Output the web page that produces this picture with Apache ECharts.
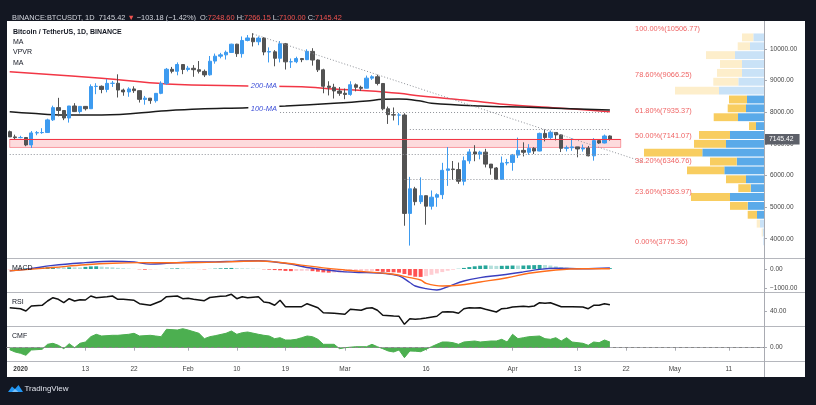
<!DOCTYPE html>
<html><head><meta charset="utf-8">
<script src="https://cdn.jsdelivr.net/npm/echarts@6/dist/echarts.min.js"></script>
<style>html,body{margin:0;padding:0;background:#131722;}#c{width:816px;height:405px;}</style>
</head><body><div id="c"></div>
<script>
// ---------- DATA ----------
// daily candles Dec 30 2019 .. Apr 19 2020 : [open, high, low, close]
const candles = [
[7385.04,7420.00,7220.00,7219.91],[7219.91,7290.00,7145.01,7195.24],[7195.24,7255.00,7175.15,7200.85],
[7200.77,7212.50,6924.74,6965.71],[6965.49,7405.00,6871.04,7344.96],[7345.00,7404.00,7272.21,7354.11],
[7354.19,7495.00,7318.00,7358.75],[7357.64,7795.34,7346.76,7758.00],[7758.90,8207.68,7723.71,8145.28],
[8145.92,8455.00,7870.00,8055.98],[8054.72,8055.96,7750.00,7817.76],[7817.74,8199.00,7672.00,8197.02],
[8197.02,8286.34,8006.00,8020.01],[8020.01,8197.00,7960.00,8184.98],[8184.97,8196.00,8055.89,8110.34],
[8110.34,8880.00,8105.25,8810.01],[8814.64,8916.48,8570.05,8821.41],[8820.01,8846.46,8600.00,8720.01],
[8720.15,9050.00,8630.00,8913.28],[8913.27,8988.88,8800.00,8915.96],[8915.09,9198.98,8466.00,8701.70],
[8701.72,8746.93,8521.28,8642.35],[8642.35,8789.10,8488.00,8736.03],[8736.04,8818.00,8611.00,8682.36],
[8681.65,8688.00,8306.07,8406.41],[8405.80,8514.67,8238.00,8445.43],[8445.34,8445.34,8266.00,8367.85],
[8364.47,8600.00,8305.00,8596.83],[8597.30,8977.73,8570.31,8909.95],[8912.52,9400.00,8862.20,9358.59],
[9357.47,9432.33,9230.00,9294.69],[9295.49,9575.00,9167.70,9508.93],[9508.31,9521.71,9203.00,9350.53],
[9351.71,9464.53,9290.00,9392.88],[9389.00,9489.60,9120.00,9344.37],[9344.69,9618.79,9225.00,9293.52],
[9292.24,9350.00,9112.81,9180.96],[9183.16,9777.77,9156.50,9613.23],[9617.82,9855.00,9535.00,9772.43],
[9772.44,9877.00,9704.28,9813.73],[9813.73,9950.00,9666.00,9895.05],[9889.65,10166.00,9883.04,10151.75],
[10151.72,10165.32,9750.00,9851.83],[9851.74,10396.61,9726.00,10268.98],[10269.52,10440.00,10240.86,10348.78],
[10348.78,10500.00,10080.00,10228.67],[10229.63,10394.60,10120.00,10344.36],[10344.36,10370.90,9801.00,9904.72],
[9904.46,10050.00,9575.00,9917.27],[9910.70,9964.16,9452.67,9706.00],[9706.00,10250.00,9576.01,10164.71],
[10164.78,10191.20,9350.00,9593.79],[9594.65,9699.00,9400.00,9596.42],[9597.21,9755.84,9550.70,9697.15],
[9697.15,9715.65,9583.10,9663.16],[9663.16,9990.00,9647.75,9924.74],[9924.15,10025.00,9474.00,9650.86],
[9651.13,9670.00,9272.00,9341.08],[9340.85,9375.00,8600.00,8820.00],[8825.94,8980.00,8531.00,8784.94],
[8788.54,8900.00,8433.00,8672.46],[8671.21,8796.00,8520.00,8599.51],[8599.76,8750.00,8411.00,8562.04],
[8563.26,8979.92,8522.30,8869.67],[8865.54,8909.00,8660.00,8787.86],[8788.10,8840.00,8670.00,8755.25],
[8760.07,9159.42,8755.00,9078.08],[9078.30,9170.00,9021.00,9122.55],[9121.60,9188.00,8850.00,8909.95],
[8908.95,8914.34,8060.00,8108.12],[8108.20,8177.79,7630.00,7923.64],[7922.42,8150.00,7740.00,7909.73],
[7910.87,7975.00,7590.00,7911.43],[7911.43,7966.17,4410.00,4800.00],[4800.01,5955.00,3782.13,5578.60],
[5576.05,5640.52,5055.13,5172.06],[5172.06,5940.00,5100.00,5361.30],[5360.33,5365.42,4442.12,5028.97],
[5028.86,5525.00,4921.45,5312.64],[5312.64,5436.17,5009.37,5393.26],[5393.26,6400.00,5252.53,6162.48],
[6162.05,6900.00,5670.00,6208.36],[6204.57,6456.98,5860.02,6186.98],[6187.04,6407.87,5734.01,5816.19],
[5816.05,6600.00,5688.00,6467.30],[6465.25,6833.00,6371.33,6744.72],[6744.69,6957.96,6450.00,6677.43],
[6677.43,6780.00,6510.00,6737.36],[6737.27,6842.59,6253.99,6359.11],[6359.11,6359.11,6024.00,6236.65],
[6236.65,6266.00,5866.56,5881.42],[5880.50,6599.00,5857.76,6394.38],[6394.45,6523.23,6321.40,6410.44],
[6412.14,6679.94,6150.11,6642.92],[6643.36,7198.00,6551.00,6794.09],[6793.86,7048.00,6602.10,6734.10],
[6732.97,6990.41,6650.01,6856.99],[6857.41,6895.54,6677.52,6772.78],[6772.78,7355.14,6765.00,7329.90],
[7329.90,7459.69,7077.00,7197.32],[7197.32,7420.00,7150.00,7361.28],[7360.26,7371.92,7108.08,7283.54],
[7283.54,7295.75,6739.98,6858.92],[6858.92,6944.30,6760.00,6876.83],[6876.84,7177.00,6780.00,6903.79],
[6903.79,6903.79,6575.00,6837.91],[6838.04,6978.00,6754.28,6868.70],[6868.57,6933.00,6605.00,6621.24],
[6621.25,7180.00,6468.27,7101.94],[7101.99,7148.12,7000.00,7026.78],[7026.78,7293.08,7014.40,7248.60],
[7248.60,7266.15,7100.00,7145.42]
];
// moving averages: [dayIndex, value]
const ma200 = [[0,9282],[17,9073],[29,8893],[44,8830],[54,8808],[60,8735],[66,8681],[72,8599],[76,8514],[84,8387],[93,8229],[102,8125],[111,8017]];
const ma100 = [[0,8017],[4,7966],[10,7913],[17,7913],[29,8049],[35,8102],[44,8144],[51,8197],[60,8283],[66,8355],[69,8409],[72,8419],[76,8355],[78,8283],[87,8197],[96,8156],[111,8071]];
// Fibonacci retracement
const fibPcts = ['100.00%','78.60%','61.80%','50.00%','38.20%','23.60%','0.00%'];
const fibLevels = [10506.77,9066.25,7935.37,7141.07,6346.76,5363.97,3775.36];
// horizontal dotted levels [fromDay, toDay, price]
const hLevels = [[50,111,8000],[74,111,7470],[0,111,6680],[73,111,5880]];
const trendLine = [[45,10475],[117,6440]];
const zoneBand = [0,113,6885,7141.07];
const lastPrice = 7145.42;
// VPVR (bottom row first), up / down volume
const vpLow = 3775.36, vpHigh = 10506.77;
const vpUp   = [7,13,40,70,163,340,133,180,397,273,617,380,340,80,260,180,170,450,257,220,220,290,140,107];
const vpDown = [0,10,33,93,177,390,124,200,373,267,583,320,310,70,243,183,180,440,250,250,220,290,123,113];
const vpInVA = [0,0,0,1,1,1,1,1,1,1,1,1,1,1,1,1,1,0,0,0,0,0,0,0];
// MACD
const macdLine = [[0,-100],[3,-20],[8,190],[14,330],[19,400],[23,360],[26,250],[29,290],[34,360],[38,370],[42,410],[46,430],[49,365],[52,250],[55,80],[58,-30],[62,-150],[66,-190],[69,-220],[72,-360],[74,-700],[75,-880],[77,-1020],[79,-1088],[81,-920],[84,-620],[87,-450],[91,-310],[95,-150],[98,-20],[101,36],[106,16],[111,52]];
const signalLine = [[0,-100],[8,80],[14,220],[19,300],[24,330],[30,325],[35,335],[40,370],[46,415],[50,340],[53,240],[58,60],[62,-50],[66,-150],[71,-275],[74,-450],[76,-570],[77,-741],[80,-880],[83,-845],[87,-674],[92,-451],[96,-223],[101,-52],[106,16],[111,16]];
const macdHist = [-10,5,15,30,45,55,75,100,110,95,85,90,85,80,110,135,140,120,100,85,60,40,20,5,-15,-35,-30,-15,-5,10,25,35,30,20,10,-5,-15,5,20,35,45,55,45,35,30,20,10,-15,-35,-55,-70,-100,-110,-100,-95,-90,-110,-140,-175,-190,-185,-180,-170,-160,-150,-135,-115,-105,-110,-150,-165,-170,-190,-260,-330,-400,-410,-370,-300,-230,-160,-90,-40,10,55,100,140,170,185,175,160,165,170,180,175,180,190,200,210,205,180,140,100,75,55,40,30,20,25,35,40,45];
// RSI
const rsi = [[0,46.6],[2,44.6],[3,40],[4,50],[6,51.4],[7,60],[8,66.6],[9,63.4],[10,56.6],[11,64.6],[12,60],[13,62.6],[14,62],[15,70],[16,66.6],[18,68.6],[19,70],[20,63.4],[21,63.4],[23,61.4],[24,54.6],[26,51.4],[28,60],[29,68.6],[31,70],[32,64.6],[33,65.4],[34,63.4],[36,60.6],[37,67],[39,69.4],[40,70],[41,73.4],[42,64.6],[43,68.6],[44,66.6],[46,68.6],[47,58],[48,56.6],[49,51.4],[50,61.4],[51,48.6],[53,48.6],[54,48.6],[55,54.6],[57,46.6],[58,36.6],[60,35.4],[62,33.4],[63,43.4],[65,41.4],[66,45.4],[67,46.6],[68,41.4],[69,31.4],[71,30],[72,29.4],[73,13.4],[74,24.6],[75,23.4],[76,24.6],[77,26],[79,29.5],[80,38],[81,38.6],[82,38],[83,35.4],[84,44.6],[85,46.6],[86,46],[87,46.6],[88,43.4],[90,38],[91,44.6],[92,45.4],[93,48],[95,49.4],[96,48.6],[97,50],[98,56.6],[99,55.4],[100,56.6],[102,48.6],[104,48.6],[106,48],[107,44.6],[108,51.4],[109,51.4],[110,54.6],[111,52.6]];
// CMF
const cmf = [[0,-0.02],[1,-0.043],[2,-0.056],[3,-0.076],[4,-0.023],[6,-0.016],[7,0.034],[8,0.044],[9,0.024],[10,-0.01],[11,0.04],[12,0.0],[13,0.044],[14,0.057],[15,0.11],[16,0.134],[17,0.117],[19,0.124],[20,0.124],[22,0.134],[23,0.144],[24,0.117],[26,0.124],[27,0.117],[28,0.11],[29,0.184],[31,0.177],[32,0.19],[33,0.177],[35,0.144],[36,0.09],[37,0.11],[38,0.12],[40,0.144],[41,0.167],[42,0.134],[43,0.15],[44,0.157],[46,0.134],[47,0.124],[48,0.117],[49,0.09],[50,0.1],[51,0.077],[52,0.077],[53,0.084],[54,0.1],[55,0.117],[56,0.11],[57,0.084],[58,0.034],[60,0.034],[61,-0.01],[62,0],[64,0.01],[66,0.01],[67,0.034],[68,0.01],[69,-0.01],[70,-0.033],[71,-0.043],[72,-0.023],[73,-0.1],[74,-0.033],[75,-0.035],[76,-0.04],[77,-0.016],[78,0.01],[79,0.034],[80,0.057],[81,0.057],[82,0.05],[83,0.034],[84,0.057],[86,0.067],[87,0.057],[89,0.067],[90,0.067],[91,0.084],[92,0.057],[93,0.134],[94,0.09],[95,0.1],[96,0.11],[98,0.117],[99,0.09],[100,0.084],[101,0.1],[102,0.067],[103,0.1],[104,0.057],[106,0.044],[107,0.024],[108,0.057],[109,0.05],[110,0.077],[111,0.057]];
// axis tick labels
const tickDates = ['2020-01-01','2020-01-13','2020-01-22','2020-02-01','2020-02-10','2020-02-19','2020-03-01','2020-03-16','2020-04-01','2020-04-13','2020-04-22','2020-05-01','2020-05-11'];
const tickLabels = ['2020','13','22','Feb','10','19','Mar','16','Apr','13','22','May','11'];
const priceTicks = [4000,5000,6000,7000,8000,9000,10000];
const macdTicks = [0,-1000];
const rsiTicks = [40];
const cmfTicks = [0];

// ---------- BUILD ----------
const dates = [];
for (let i = 0; i < 140; i++) {
  const d = new Date(Date.UTC(2019, 11, 30 + i));
  dates.push(d.toISOString().slice(0, 10));
}
const FONT = '"Liberation Sans", Arial, sans-serif';
const UP = '#3d9bf0', DOWN = '#535353';
const candleData = candles.map(c => [c[0], c[3], c[2], c[1]]);
const fmt = v => (v < 0 ? '\u2212' : '') + Math.abs(v).toFixed(2);
const tickSet = {};
tickDates.forEach((d, i) => tickSet[d] = tickLabels[i]);

const chart = echarts.init(document.getElementById('c'), null, {renderer: 'canvas', width: 816, height: 405});

const L = 7, R = 52;
const grids = [
  {left: L, right: R, top: 21, height: 237.5},
  {left: L, right: R, top: 258.5, height: 34},
  {left: L, right: R, top: 292.5, height: 34},
  {left: L, right: R, top: 326.5, height: 34.5},
  {left: L, right: R, top: 21, height: 237.5}
];
function catAxis(i, showLabels) {
  return {
    type: 'category', gridIndex: i, data: dates, boundaryGap: true,
    show: showLabels,
    axisLine: {show: showLabels, lineStyle: {color: '#a9abb2', width: 1}},
    axisTick: {show: showLabels, length: 3, alignWithLabel: true, lineStyle: {color: '#a9abb2'},
      interval: (idx, val) => tickSet[val] !== undefined},
    axisLabel: {show: showLabels, margin: 5, fontSize: 6.5, fontFamily: FONT, color: '#444',
      interval: (idx, val) => tickSet[val] !== undefined,
      formatter: val => val === '2020-01-01' ? '{b|2020}' : (tickSet[val] || ''),
      rich: {b: {fontWeight: 'bold', fontSize: 6.5, fontFamily: FONT, color: '#333'}}},
    splitLine: {show: false}
  };
}
function valAxis(i, min, max, ticks, show) {
  return {
    type: 'value', gridIndex: i, position: 'right', min: min, max: max, show: show !== false,
    axisLine: {show: false},
    axisTick: {show: true, length: 3, customValues: ticks, lineStyle: {color: '#a9abb2'}},
    axisLabel: {show: true, margin: 6, fontSize: 6.5, fontFamily: FONT, color: '#444', customValues: ticks,
      formatter: v => ticks.indexOf(v) >= 0 ? fmt(v) : ''},
    splitLine: {show: false}
  };
}

const dotted = {color: '#8f9299', width: 1, type: [1, 2]};
const markLines = [];
hLevels.forEach(h => markLines.push([{coord: [h[0], h[2]], lineStyle: dotted}, {coord: [h[1], h[2]]}]));
markLines.push([{coord: trendLine[0], lineStyle: dotted}, {coord: trendLine[1]}]);
markLines.push([{coord: [zoneBand[0], zoneBand[3]], lineStyle: {color: '#f23645', width: 1.2, type: 'solid'}}, {coord: [zoneBand[1], zoneBand[3]]}]);
markLines.push({yAxis: lastPrice, lineStyle: {color: 'rgba(0,0,0,0)', width: 0},
  label: {show: true, position: 'end', distance: 0, formatter: lastPrice.toFixed(2), color: '#fff',
    backgroundColor: '#5d6069', padding: [2, 6, 1.5, 5], fontSize: 6.8, fontFamily: FONT}});

const series = [
  {
    type: 'custom', name: 'VPVR', xAxisIndex: 4, yAxisIndex: 4, z: 1, silent: true,
    data: vpUp.map((u, i) => [i, u, vpDown[i], vpInVA[i]]),
    renderItem: function (params, api) {
      const i = api.value(0), up = api.value(1), dn = api.value(2), va = api.value(3);
      const step = (vpHigh - vpLow) / vpUp.length;
      const lo = vpLow + i * step, hi = lo + step;
      const p0 = api.coord([0, hi]);
      const p1 = api.coord([up, lo]);
      const p2 = api.coord([up + dn, lo]);
      const y = p0[1] + 0.5, h = Math.max(0, p1[1] - p0[1] - 1);
      return {type: 'group', children: [
        {type: 'rect', shape: {x: p1[0], y: y, width: p0[0] - p1[0], height: h}, style: {fill: va ? '#5aaae9' : '#c9e2f7'}},
        {type: 'rect', shape: {x: p2[0], y: y, width: p1[0] - p2[0], height: h}, style: {fill: va ? '#f8cd60' : '#fdeecb'}}
      ]};
    }
  },
  {
    type: 'candlestick', name: 'BTCUSDT', xAxisIndex: 0, yAxisIndex: 0, z: 3,
    data: candleData, barWidth: '70%',
    itemStyle: {color: UP, color0: DOWN, borderColor: UP, borderColor0: DOWN, borderWidth: 1},
    markArea: {silent: true, itemStyle: {color: 'rgba(242,54,69,0.18)', borderColor: 'rgba(242,54,69,0.45)', borderWidth: 1},
      data: [[{coord: [zoneBand[0], zoneBand[2]]}, {coord: [zoneBand[1], zoneBand[3]]}]]},
    markLine: {silent: true, symbol: ['none', 'none'], label: {show: false}, data: markLines}
  },
  {
    type: 'line', name: 'MA200', xAxisIndex: 0, yAxisIndex: 0, z: 2, data: ma200, smooth: 0.4, showSymbol: false,
    lineStyle: {color: '#f23645', width: 1.5},
    markPoint: {silent: true, symbol: 'rect', symbolSize: [31, 8], itemStyle: {color: '#fff'},
      label: {show: true, position: 'inside', color: '#3f51d8', fontStyle: 'italic', fontSize: 7.5, fontFamily: FONT, formatter: '200-MA'},
      data: [{coord: [47, 8830]}]}
  },
  {
    type: 'line', name: 'MA100', xAxisIndex: 0, yAxisIndex: 0, z: 2, data: ma100, smooth: 0.4, showSymbol: false,
    lineStyle: {color: '#1b1b1b', width: 1.5},
    markPoint: {silent: true, symbol: 'rect', symbolSize: [31, 8], itemStyle: {color: '#fff'},
      label: {show: true, position: 'inside', color: '#3f51d8', fontStyle: 'italic', fontSize: 7.5, fontFamily: FONT, formatter: '100-MA'},
      data: [{coord: [47, 8102]}]}
  },
  {
    type: 'scatter', name: 'Fib', xAxisIndex: 0, yAxisIndex: 0, z: 4, silent: true, symbolSize: 1,
    itemStyle: {color: 'rgba(255,255,255,0)'},
    data: fibLevels.map((v, i) => [115, v, fibPcts[i] + '(' + v.toFixed(2) + ')']),
    label: {show: true, position: 'right', distance: 3, verticalAlign: 'bottom', color: '#eb3b3b',
      fontSize: 7.4, fontFamily: FONT, formatter: p => p.data[2]},
    labelLayout: {hideOverlap: false}
  },
  {
    type: 'bar', name: 'Histogram', xAxisIndex: 1, yAxisIndex: 1, data: macdHist, barWidth: '72%',
    itemStyle: {color: p => {
      const v = p.value, prev = p.dataIndex > 0 ? macdHist[p.dataIndex - 1] : v;
      if (v >= 0) return v >= prev ? '#26a69a' : '#b2dfdb';
      return v <= prev ? '#ff5252' : '#ffcdd2';
    }}
  },
  {type: 'line', name: 'MACD', xAxisIndex: 1, yAxisIndex: 1, data: macdLine, smooth: 0.4, showSymbol: false,
    lineStyle: {color: '#3b3fbf', width: 1.4}, z: 3},
  {type: 'line', name: 'Signal', xAxisIndex: 1, yAxisIndex: 1, data: signalLine, smooth: 0.4, showSymbol: false,
    lineStyle: {color: '#ff6d1a', width: 1.4}, z: 3},
  {type: 'line', name: 'RSI', xAxisIndex: 2, yAxisIndex: 2, data: rsi, showSymbol: false,
    lineStyle: {color: '#111', width: 1.5}},
  {type: 'line', name: 'CMF', xAxisIndex: 3, yAxisIndex: 3, data: cmf, showSymbol: false,
    lineStyle: {color: '#4caf50', width: 1}, areaStyle: {color: '#4caf50', opacity: 1},
    markLine: {silent: true, symbol: ['none', 'none'], label: {show: false},
      lineStyle: {color: '#888', type: [3, 3], width: 1}, data: [{yAxis: 0}]}}
];

const txt = (x, y, t, font, fill) => ({type: 'text', x: x, y: y, silent: true, z: 50,
  style: {text: t, font: font, fill: fill || '#131722', verticalAlign: 'middle', align: 'left'}});
const hline = (y, x1, x2, c) => ({type: 'line', silent: true, z: 40, shape: {x1: x1, y1: y, x2: x2, y2: y}, style: {stroke: c, lineWidth: 1}});

const option = {
  animation: false,
  backgroundColor: '#131722',
  title: [{
    left: 7, top: 8,
    text: '{w|BINANCE:BTCUSDT, 1D  7145.42 }{r|\u25BC}{w| \u2212103.18 (\u22121.42%)  O:}{r|7248.60}{w| H:}{r|7266.15}{w| L:}{r|7100.00}{w| C:}{r|7145.42}',
    textStyle: {fontSize: 7.4, fontFamily: FONT, fontWeight: 'normal', lineHeight: 10,
      rich: {w: {color: '#d1d4dc', fontSize: 7.4, fontFamily: FONT}, r: {color: '#ef5350', fontSize: 7.4, fontFamily: FONT}}}
  }],
  grid: grids,
  xAxis: [catAxis(0, false), catAxis(1, false), catAxis(2, false), catAxis(3, true),
    {type: 'value', gridIndex: 4, inverse: true, min: 0, max: 7570, show: false}],
  yAxis: [valAxis(0, 3374, 10885, priceTicks), valAxis(1, -1218, 544, macdTicks), valAxis(2, 9, 77, rsiTicks),
    valAxis(3, -0.133, 0.212, cmfTicks), {type: 'value', gridIndex: 4, min: 3374, max: 10885, show: false}],
  series: series,
  graphic: [
    {type: 'rect', silent: true, z: -100, shape: {x: 7, y: 21, width: 798, height: 356}, style: {fill: '#ffffff'}},
    hline(258.5, 7, 805, '#b5b7bd'), hline(292.5, 7, 805, '#b5b7bd'), hline(326.5, 7, 805, '#b5b7bd'), hline(361.5, 7, 805, '#b5b7bd'),
    {type: 'line', silent: true, z: 40, shape: {x1: 764.5, y1: 21, x2: 764.5, y2: 377}, style: {stroke: '#a9abb2', lineWidth: 1}},
    txt(13, 31.7, 'Bitcoin / TetherUS, 1D, BINANCE', 'bold 7px ' + FONT),
    txt(13, 42, 'MA', '7px ' + FONT),
    txt(13, 52.3, 'VPVR', '7px ' + FONT),
    txt(13, 62.7, 'MA', '7px ' + FONT),
    txt(12, 268.5, 'MACD', '7px ' + FONT),
    txt(12, 302.5, 'RSI', '7px ' + FONT),
    txt(12, 336.5, 'CMF', '7px ' + FONT),
    {type: 'polygon', silent: true, z: 50, shape: {points: [[8, 392], [12, 386.5], [15, 389], [18.5, 385], [23, 392]]}, style: {fill: '#2196f3'}},
    {type: 'polygon', silent: true, z: 51, shape: {points: [[12, 392], [15, 389], [18.5, 392]]}, style: {fill: '#7cc0f7'}},
    txt(24.5, 388.5, 'TradingView', '8px ' + FONT, '#e0e3eb')
  ]
};
chart.setOption(option);
</script></body></html>
